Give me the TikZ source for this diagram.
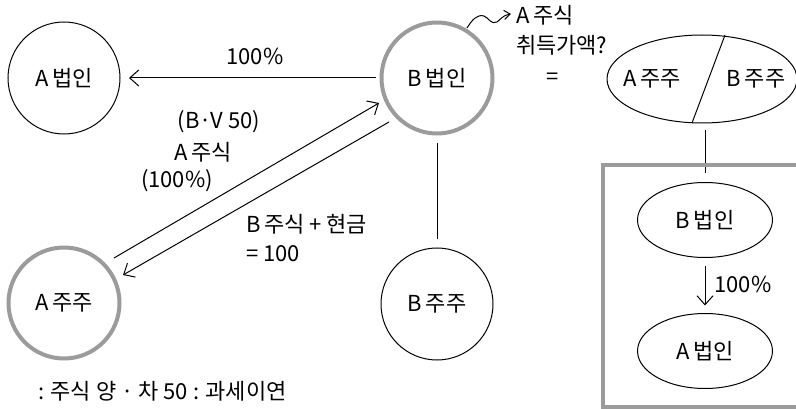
\documentclass[tikz,border=0pt]{standalone}
\usepackage{fontspec}
\setmainfont{Noto Sans CJK KR}
\usetikzlibrary{arrows.meta,calc,shapes.geometric}
\definecolor{thk}{RGB}{155,155,155}
\begin{document}
\begin{tikzpicture}[x=1pt,y=-1pt,
  font=\fontsize{22}{26}\selectfont,
  every node/.style={inner sep=0pt, outer sep=0pt},
  ln/.style={draw=black, line width=1pt},
  arr/.style={ln, -{Straight Barb[length=9pt,width=16pt,line width=1pt]}},
  cthin/.style={circle, draw=black, line width=1pt, minimum size=112pt},
  cthick/.style={circle, draw=thk, line width=4pt, minimum size=111pt},
  ell/.style={ellipse, draw=black, line width=1pt},
  thkline/.style={draw=thk, line width=4pt}]
\useasboundingbox (0,0) rectangle (796,409);

% circles
\node[cthin]  (Ab) at (64,78)  {A\,법인};
\node[cthick] (Bb) at (437,78) {B\,법인};
\node[cthick] (Aj) at (64,303) {A\,주주};
\node[cthin]  (Bj) at (437,304) {B\,주주};

% B법인 -> A법인
\draw[arr, shorten <=6pt, shorten >=9pt] (Bb) -- (Ab);
\node (t100) at (255,56) {100\%};

% diagonal arrows
\draw[arr] ($(Aj)+(50,-45)$) -- ($(Bb)+(-58,25)$);
\draw[arr] ($(Bb)+(-48,44)$) -- ($(Aj)+(59,-28)$);
\node (tbv) at (219,122) {(B·V 50)};
\node (tas) at (203,152) {A\,주식};
\node (tpc) at (177,181) {(100\%)};
\node[anchor=west] (tbs) at (246,224) {B\,주식 + 현금};
\node[anchor=west] (t100b) at (246,254) {= 100};

% vertical B법인 - B주주
\draw[ln] ($(Bb)+(0,65)$) -- ($(Bj)+(0,-65)$);

% squiggle
\coordinate (sq0) at ($(Bb)+(30,-50)$);
\coordinate (sq1) at (511,14);
\draw[ln, -{Straight Barb[length=6pt,width=9pt,line width=1pt]}]
  (sq0) .. controls (472,20) and (477,14) .. (484,16)
        .. controls (489,18) and (491,25) .. (497,22)
        .. controls (500,20) and (503,15) .. (sq1);
\node[anchor=west] (tas2) at (516,15) {A\,주식};
\node[anchor=west] (tcq) at (516,45) {취득가액?};
\node (teq) at (553,79) {=};

% big ellipse
\node[ell, minimum width=190pt, minimum height=88pt] (E) at (702,79) {};
\coordinate (d1) at (725,35);
\coordinate (d2) at (692,123);
\draw[ln] (d1) -- (d2);
\node (eA) at (652,79) {A\,주주};
\node (eB) at (756,79) {B\,주주};

% link ellipse -> box
\coordinate (v1) at (705,130);
\coordinate (v2) at (705,173);
\draw[ln] (v1) -- (v2);

% gray box (open at right)
\draw[thkline] (810,165) -- (603,165) -- (603,407) -- (810,407);

% inner ellipses
\node[ell, minimum width=135pt, minimum height=75pt] (Bi) at (705,220) {B\,법인};
\node[ell, minimum width=135pt, minimum height=75pt] (Ai) at (705,351) {A\,법인};
\draw[arr, shorten <=8pt, shorten >=8pt] (Bi) -- (Ai);
\node (t100c) at (743,284) {100\%};

% bottom note
\node[anchor=west] (note) at (38,391) {: 주식 양 · 차 50 : 과세이연};
\end{tikzpicture}
\end{document}
